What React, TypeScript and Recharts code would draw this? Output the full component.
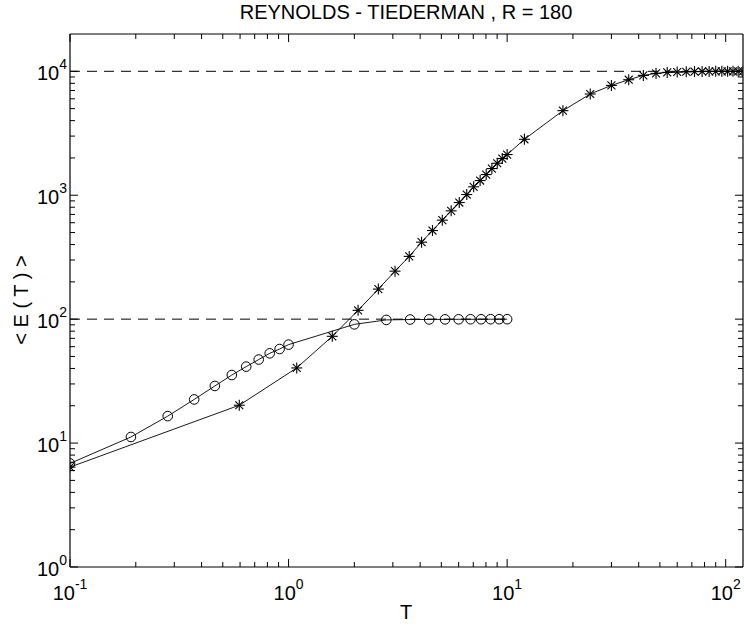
import React from 'react';
import { LineChart, Line, XAxis, YAxis } from 'recharts';

// ---- data ----
const circleT = [0.1, 0.19, 0.28, 0.37, 0.46, 0.55, 0.64, 0.73, 0.82, 0.91, 1.0, 2.0, 2.8, 3.6, 4.4, 5.2, 6.0, 6.8, 7.6, 8.4, 9.2, 10.0];
const circleE = [6.85, 11.2, 16.5, 22.5, 28.9, 35.4, 41.4, 47.2, 53.0, 57.4, 62.3, 90.8, 98.6, 99.3, 99.5, 99.6, 99.7, 99.8, 99.8, 99.9, 99.9, 99.9];

const starT = [0.1, 0.595, 1.09, 1.585, 2.08, 2.575, 3.07, 3.565, 4.06, 4.555, 5.05, 5.545, 6.04, 6.535, 7.03, 7.525, 8.02, 8.515, 9.01, 9.505, 10.0, 12, 18, 24, 30, 36, 42, 48, 54, 60, 66, 72, 78, 84, 90, 96, 102, 108, 114, 120];
const starE = [6.4, 20.2, 40.4, 72.7, 117.8, 174.8, 244, 321, 418, 519, 629, 748, 873, 1013, 1169, 1314, 1468, 1641, 1811, 1976, 2129, 2828, 4814, 6560, 7694, 8553, 9268, 9620, 9800, 9870, 9920, 9950, 9970, 9980, 9990, 9993, 9995, 9997, 9998, 9999];

const limitLowT = [0.1, 10];
const limitLowE = [100, 100];
const limitHighT = [0.1, 120];
const limitHighE = [10000, 10000];

const xTicks = [0.1, 0.2, 0.3, 0.4, 0.5, 0.6, 0.7, 0.8, 0.9, 1, 2, 3, 4, 5, 6, 7, 8, 9, 10, 20, 30, 40, 50, 60, 70, 80, 90, 100];
const yTicks = [1, 2, 3, 4, 5, 6, 7, 8, 9, 10, 20, 30, 40, 50, 60, 70, 80, 90, 100, 200, 300, 400, 500, 600, 700, 800, 900, 1000, 2000, 3000, 4000, 5000, 6000, 7000, 8000, 9000, 10000];

const titleText = 'REYNOLDS - TIEDERMAN , R = 180';
const xLabel = 'T';
const yLabel = '< E ( T ) >';

const zip = (xs: number[], ys: number[]) => xs.map((x, i) => ({ x, y: ys[i] }));
const circleData = zip(circleT, circleE);
const starData = zip(starT, starE);
const lowData = zip(limitLowT, limitLowE);
const highData = zip(limitHighT, limitHighE);

const FONT = '"Liberation Sans", Arial, Helvetica, sans-serif';
const MAJOR = 8;
const MINOR = 5;

const isDecade = (v: number) => Math.abs(Math.log10(v) - Math.round(Math.log10(v))) < 1e-9;
const expOf = (v: number) => String(Math.round(Math.log10(v)));

const BottomTick = (props: any) => {
  const { x, y, payload } = props;
  const v = payload.value;
  const major = isDecade(v);
  return (
    <g>
      <line x1={x} y1={y} x2={x} y2={y - (major ? MAJOR : MINOR)} stroke="#000" strokeWidth={1} />
      {major && (
        <text x={x} y={y + 33} textAnchor="middle" fontFamily={FONT} fontSize={20} fill="#000">
          10<tspan dy={-11} fontSize={14}>{expOf(v)}</tspan>
        </text>
      )}
    </g>
  );
};

const TopTick = (props: any) => {
  const { x, y, payload } = props;
  const major = isDecade(payload.value);
  return <line x1={x} y1={y} x2={x} y2={y + (major ? MAJOR : MINOR)} stroke="#000" strokeWidth={1} />;
};

const LeftTick = (props: any) => {
  const { x, y, payload } = props;
  const v = payload.value;
  const major = isDecade(v);
  return (
    <g>
      <line x1={x} y1={y} x2={x + (major ? MAJOR : MINOR)} y2={y} stroke="#000" strokeWidth={1} />
      {major && (
        <text x={x - 3} y={y + 9} textAnchor="end" fontFamily={FONT} fontSize={20} fill="#000">
          10<tspan dy={-11} fontSize={14}>{expOf(v)}</tspan>
        </text>
      )}
    </g>
  );
};

const RightTick = (props: any) => {
  const { x, y, payload } = props;
  const major = isDecade(payload.value);
  return <line x1={x} y1={y} x2={x - (major ? MAJOR : MINOR)} y2={y} stroke="#000" strokeWidth={1} />;
};

const CircleDot = (props: any) => {
  const { cx, cy } = props;
  if (cx == null || cy == null) return null;
  return <circle cx={cx} cy={cy} r={4.8} fill="none" stroke="#000" strokeWidth={1} />;
};

const StarDot = (props: any) => {
  const { cx, cy } = props;
  if (cx == null || cy == null) return null;
  const r = 5.5;
  const d = r * 0.72;
  return (
    <g stroke="#000" strokeWidth={1.1}>
      <line x1={cx - r} y1={cy} x2={cx + r} y2={cy} />
      <line x1={cx} y1={cy - r} x2={cx} y2={cy + r} />
      <line x1={cx - d} y1={cy - d} x2={cx + d} y2={cy + d} />
      <line x1={cx - d} y1={cy + d} x2={cx + d} y2={cy - d} />
    </g>
  );
};

export default function App() {
  return (
    <div style={{ position: 'absolute', left: 0, top: 0, width: 744, height: 630, background: '#fff' }}>
      <LineChart width={744} height={630} margin={{ top: 33, right: 0, bottom: 0, left: 0 }}>
        <XAxis
          xAxisId="b"
          dataKey="x"
          type="number"
          scale="log"
          domain={[0.1, 120]}
          allowDataOverflow
          ticks={xTicks}
          interval={0}
          tickSize={0}
          tickMargin={0}
          tickLine={false}
          tick={<BottomTick />}
          height={63}
          orientation="bottom"
          axisLine={{ stroke: '#000', strokeWidth: 1.2 }}
        />
        <XAxis
          xAxisId="t"
          dataKey="x"
          type="number"
          scale="log"
          domain={[0.1, 120]}
          allowDataOverflow
          ticks={xTicks}
          interval={0}
          tickSize={0}
          tickMargin={0}
          tickLine={false}
          tick={<TopTick />}
          height={1}
          orientation="top"
          axisLine={{ stroke: '#000', strokeWidth: 1.2 }}
        />
        <YAxis
          yAxisId="l"
          dataKey="y"
          type="number"
          scale="log"
          domain={[1, 20000]}
          allowDataOverflow
          ticks={yTicks}
          interval={0}
          tickSize={0}
          tickMargin={0}
          tickLine={false}
          tick={<LeftTick />}
          width={70}
          orientation="left"
          axisLine={{ stroke: '#000', strokeWidth: 1.2 }}
        />
        <YAxis
          yAxisId="r"
          dataKey="y"
          type="number"
          scale="log"
          domain={[1, 20000]}
          allowDataOverflow
          ticks={yTicks}
          interval={0}
          tickSize={0}
          tickMargin={0}
          tickLine={false}
          tick={<RightTick />}
          width={1}
          orientation="right"
          axisLine={{ stroke: '#000', strokeWidth: 1.2 }}
        />
        <Line
          xAxisId="t"
          yAxisId="r"
          data={highData}
          dataKey="y"
          stroke="#000"
          strokeWidth={1}
          strokeDasharray="10 7"
          dot={false}
          activeDot={false}
          isAnimationActive={false}
        />
        <Line
          xAxisId="b"
          yAxisId="l"
          data={lowData}
          dataKey="y"
          stroke="#000"
          strokeWidth={1}
          strokeDasharray="10 7"
          dot={false}
          activeDot={false}
          isAnimationActive={false}
        />
        <Line
          xAxisId="b"
          yAxisId="l"
          data={circleData}
          dataKey="y"
          stroke="#000"
          strokeWidth={0.9}
          dot={<CircleDot />}
          activeDot={false}
          isAnimationActive={false}
        />
        <Line
          xAxisId="b"
          yAxisId="l"
          data={starData}
          dataKey="y"
          stroke="#000"
          strokeWidth={0.9}
          dot={<StarDot />}
          activeDot={false}
          isAnimationActive={false}
        />
      </LineChart>
      <svg width={744} height={630} style={{ position: 'absolute', left: 0, top: 0, pointerEvents: 'none' }}>
        <text x={406} y={19} textAnchor="middle" fontFamily={FONT} fontSize={20} fill="#000">
          {titleText}
        </text>
        <text x={406} y={619} textAnchor="middle" fontFamily={FONT} fontSize={20} fill="#000">
          {xLabel}
        </text>
        <text
          x={0}
          y={0}
          transform="translate(28,300) rotate(-90)"
          textAnchor="middle"
          fontFamily={FONT}
          fontSize={20}
          fill="#000"
        >
          {yLabel}
        </text>
      </svg>
    </div>
  );
}
